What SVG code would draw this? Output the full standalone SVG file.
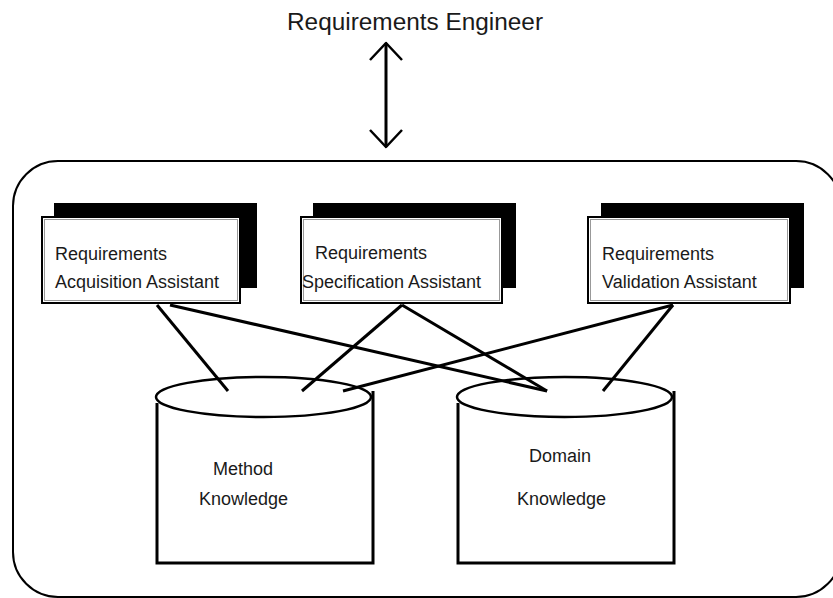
<svg xmlns="http://www.w3.org/2000/svg" width="833" height="598" viewBox="0 0 833 598">
  <style>
    text { font-family: "Liberation Sans", Arial, sans-serif; fill: #1a1a1a; }
    .lbl { font-size: 18px; }
    .shadow { fill: #000; }
    .box { fill: #fff; stroke: #000; stroke-width: 2; }
    .inner { fill: none; stroke: #999; stroke-width: 1; }
    .cyl { fill: none; stroke: #000; stroke-width: 3; }
    .cyltop { fill: #fff; stroke: #000; stroke-width: 2.5; }
    .conn { stroke: #000; stroke-width: 3; fill: none; }
  </style>
  <defs>
    <marker id="chevron" markerUnits="userSpaceOnUse" markerWidth="24" markerHeight="40" viewBox="-20 -18 24 36" refX="0" refY="0" orient="auto-start-reverse">
      <path d="M -17 -16 L 0 0 L -17 16" fill="none" stroke="#000" stroke-width="2.5" stroke-linejoin="round"/>
    </marker>
  </defs>

  <rect width="833" height="598" fill="#fff"/>

  <!-- actor -->
  <g id="engineer">
    <text x="287" y="30" font-size="23.5" textLength="256" lengthAdjust="spacingAndGlyphs">Requirements Engineer</text>
  </g>

  <!-- system boundary -->
  <g id="system">
    <rect x="13" y="161" width="828" height="436" rx="45" ry="45" fill="none" stroke="#000" stroke-width="2"/>
  </g>

  <!-- assistants -->
  <g id="acquisition">
    <rect class="shadow" x="54" y="203" width="203" height="85"/>
    <rect class="box" x="42" y="217" width="198" height="86"/>
    <rect class="inner" x="44.5" y="219.5" width="193" height="81"/>
    <text class="lbl" x="55" y="260">Requirements</text>
    <text class="lbl" x="55" y="288">Acquisition Assistant</text>
  </g>
  <g id="specification">
    <rect class="shadow" x="313" y="203" width="203" height="85"/>
    <rect class="box" x="301" y="217" width="201" height="86"/>
    <rect class="inner" x="303.5" y="219.5" width="196" height="81"/>
    <text class="lbl" x="315" y="259">Requirements</text>
    <text class="lbl" x="302" y="288">Specification Assistant</text>
  </g>
  <g id="validation">
    <rect class="shadow" x="601" y="203" width="203" height="85"/>
    <rect class="box" x="588" y="217" width="202" height="86"/>
    <rect class="inner" x="590.5" y="219.5" width="197" height="81"/>
    <text class="lbl" x="602" y="260">Requirements</text>
    <text class="lbl" x="602" y="288">Validation Assistant</text>
  </g>

  <!-- knowledge stores -->
  <g id="method-knowledge">
    <path class="cyl" d="M 157 403 L 157 563 L 373 563 L 373 391"/>
    <ellipse class="cyltop" cx="263.5" cy="397" rx="107.5" ry="20"/>
    <text class="lbl" x="213" y="475">Method</text>
    <text class="lbl" x="199" y="505">Knowledge</text>
  </g>
  <g id="domain-knowledge">
    <path class="cyl" d="M 458 403 L 458 563 L 674 563 L 674 391"/>
    <ellipse class="cyltop" cx="564.5" cy="397" rx="107.5" ry="20"/>
    <text class="lbl" x="529" y="462">Domain</text>
    <text class="lbl" x="517" y="505">Knowledge</text>
  </g>

  <!-- connectors -->
  <g id="connectors">
    <line class="conn" x1="386" y1="43" x2="386" y2="147" stroke-width="2.5" marker-start="url(#chevron)" marker-end="url(#chevron)"/>
    <line class="conn" x1="157" y1="305" x2="228" y2="391"/>
    <line class="conn" x1="170" y1="305" x2="547" y2="391"/>
    <line class="conn" x1="402" y1="305" x2="302" y2="391"/>
    <line class="conn" x1="402" y1="305" x2="547" y2="391"/>
    <line class="conn" x1="673" y1="305" x2="343" y2="391"/>
    <line class="conn" x1="673" y1="305" x2="603" y2="391"/>
  </g>
</svg>
